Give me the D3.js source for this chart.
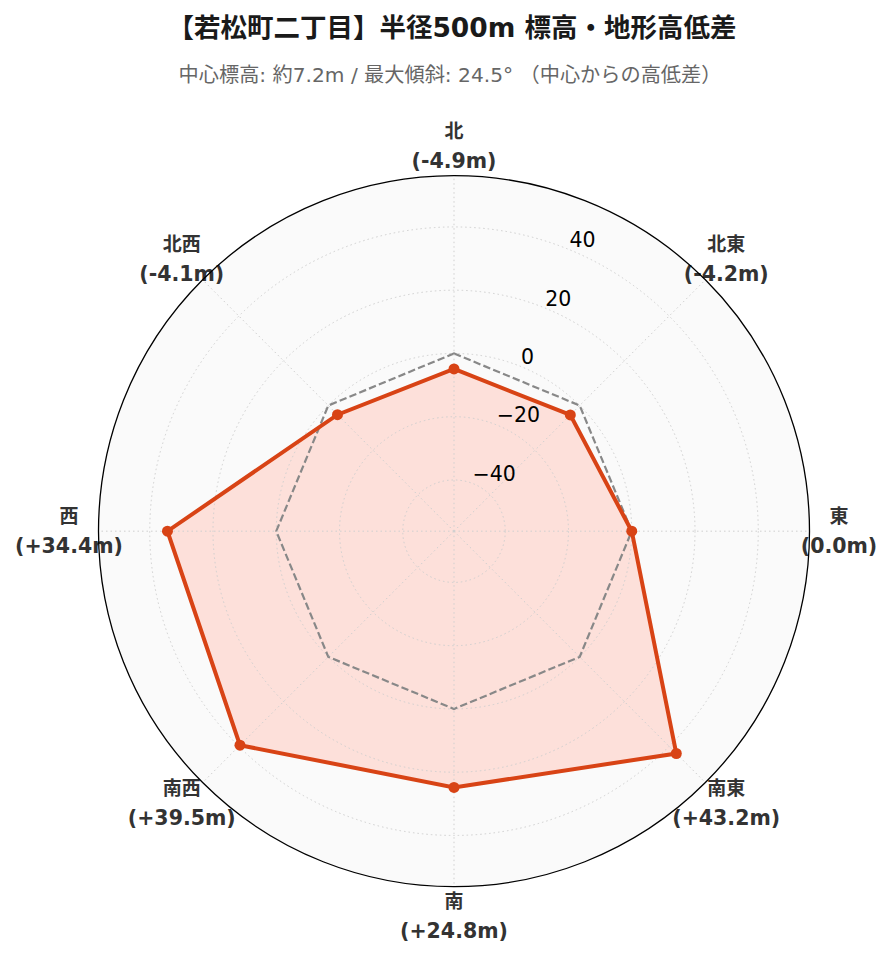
<!DOCTYPE html>
<html>
<head>
<meta charset="utf-8">
<script src="https://cdn.jsdelivr.net/npm/d3@7"></script>
<style>
  html, body { margin: 0; padding: 0; background: #ffffff; }
  svg { display: block; }
  text { font-family: "DejaVu Sans", "Noto Sans CJK JP", sans-serif; }
</style>
</head>
<body>
<svg id="chart" width="891" height="962"></svg>
<script>
// ---- data ----
const directions = ["北", "北東", "東", "南東", "南", "南西", "西", "北西"];
const values = [-4.9, -4.2, 0.0, 43.2, 24.8, 39.5, 34.4, -4.1];
const radialTicks = [-40, -20, 0, 20, 40];
const referenceValue = 0;
const titleText = "【若松町二丁目】半径500m 標高・地形高低差";
const subtitleText = "中心標高: 約7.2m / 最大傾斜: 24.5° （中心からの高低差）";

// ---- layout ----
const cx = 454, cy = 531.2, R = 355.5;
const rLim = 56.2;

const svg = d3.select("#chart");

const r = d3.scaleLinear().domain([-rLim, rLim]).range([0, R]);
const angle = d3.scaleLinear().domain([0, directions.length]).range([0, 2 * Math.PI]);

function pt(a, rad) {
  return [cx + rad * Math.sin(a), cy - rad * Math.cos(a)];
}

// title
svg.append("text")
  .attr("x", 452).attr("y", 37)
  .attr("text-anchor", "middle")
  .attr("font-size", 26.5).attr("font-weight", "bold")
  .attr("fill", "#1a1a1a")
  .text(titleText);

svg.append("text")
  .attr("x", 450).attr("y", 82)
  .attr("text-anchor", "middle")
  .attr("font-size", 20.2)
  .attr("fill", "#666666")
  .text(subtitleText);

const g = svg.append("g");

// background
g.append("circle").attr("cx", cx).attr("cy", cy).attr("r", R).attr("fill", "#fafafa");

const radial = d3.lineRadial()
  .angle((d, i) => angle(i))
  .radius(d => r(d))
  .curve(d3.curveLinearClosed);

const plot = g.append("g").attr("transform", `translate(${cx},${cy})`);

// data fill
plot.append("path")
  .attr("d", radial(values))
  .attr("fill", "#fde0da")
  .attr("stroke", "none");

// grid circles
radialTicks.forEach(t => {
  plot.append("circle")
    .attr("r", r(t))
    .attr("fill", "none")
    .attr("stroke", "#cfcfcf")
    .attr("stroke-width", 1)
    .attr("stroke-dasharray", "1.5,3");
});

// angular grid lines
directions.forEach((d, i) => {
  const [x, y] = pt(angle(i), R);
  g.append("line")
    .attr("x1", cx).attr("y1", cy).attr("x2", x).attr("y2", y)
    .attr("stroke", "#cfcfcf")
    .attr("stroke-width", 1)
    .attr("stroke-dasharray", "1.5,3");
});

// reference dashed line (0 m)
plot.append("path")
  .attr("d", radial(directions.map(() => referenceValue)))
  .attr("fill", "none")
  .attr("stroke", "#888888")
  .attr("stroke-width", 2.2)
  .attr("stroke-dasharray", "7.4,3.2");

// data line
plot.append("path")
  .attr("d", radial(values))
  .attr("fill", "none")
  .attr("stroke", "#d84315")
  .attr("stroke-width", 4)
  .attr("stroke-linejoin", "miter");

// markers
values.forEach((v, i) => {
  const [x, y] = pt(angle(i), r(v));
  g.append("circle")
    .attr("cx", x).attr("cy", y).attr("r", 5.5)
    .attr("fill", "#d84315");
});

// radial tick labels at 22.5°
const tickAngle = Math.PI / 8;
radialTicks.forEach(t => {
  const [x, y] = pt(tickAngle, r(t));
  g.append("text")
    .attr("x", x - 1).attr("y", y - 3)
    .attr("font-size", 20.5)
    .attr("fill", "#000")
    .text(t < 0 ? "\u2212" + Math.abs(t) : String(t));
});

// direction labels
const fmt = v => "(" + (v > 0 ? "+" : "") + v.toFixed(1) + "m)";
directions.forEach((d, i) => {
  const [x, y] = pt(angle(i), 385);
  const t = g.append("text")
    .attr("text-anchor", "middle")
    .attr("font-size", 19)
    .attr("font-weight", "bold")
    .attr("fill", "#333333");
  t.append("tspan").attr("x", x).attr("y", y - 8).text(d);
  t.append("tspan").attr("x", x).attr("y", y + 22).attr("font-size", 20.5).text(fmt(values[i]));
});

// outer spine
g.append("circle").attr("cx", cx).attr("cy", cy).attr("r", R)
  .attr("fill", "none").attr("stroke", "#000").attr("stroke-width", 1.3);
</script>
</body>
</html>
